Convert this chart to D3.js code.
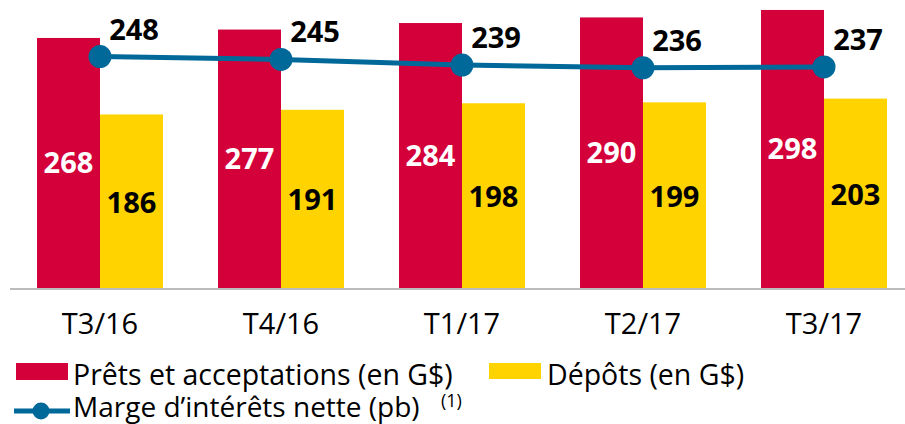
<!DOCTYPE html>
<html>
<head>
<meta charset="utf-8">
<script src="https://cdn.jsdelivr.net/npm/d3@7"></script>
<style>
  body { margin: 0; background: #fff; }
  text { font-family: "Open Sans", sans-serif; }
</style>
</head>
<body>
<div id="chart"></div>
<script>
const quarters = ["T3/16", "T4/16", "T1/17", "T2/17", "T3/17"];
const loans = [268, 277, 284, 290, 298];
const deposits = [186, 191, 198, 199, 203];
const margin = [248, 245, 239, 236, 237];

const width = 905;
const height = 424;
const red = "#D3003A";
const yellow = "#FED300";
const blue = "#00699A";

const svg = d3.select("#chart")
  .append("svg")
  .attr("width", width)
  .attr("height", height);

const x = d3.scaleBand()
  .domain(quarters)
  .range([9.5, 914.5])
  .paddingInner(0.304)
  .paddingOuter(0.152);

const xSub = d3.scaleBand()
  .domain(["loans", "deposits"])
  .range([0, x.bandwidth()]);

const y = d3.scaleLinear()
  .domain([0, 300])
  .range([288, 8.1]);

const rows = quarters.map((q, i) => ({ q, loans: loans[i], deposits: deposits[i], margin: margin[i] }));

// bars
const groups = svg.append("g")
  .selectAll("g")
  .data(rows)
  .enter()
  .append("g")
  .attr("transform", d => `translate(${x(d.q)},0)`);

groups.append("rect")
  .attr("x", xSub("loans"))
  .attr("y", d => y(d.loans))
  .attr("width", xSub.bandwidth())
  .attr("height", d => y(0) - y(d.loans))
  .style("fill", red);

groups.append("rect")
  .attr("x", xSub("deposits"))
  .attr("y", d => y(d.deposits))
  .attr("width", xSub.bandwidth())
  .attr("height", d => y(0) - y(d.deposits))
  .style("fill", yellow);

groups.append("text")
  .attr("x", xSub("loans") + xSub.bandwidth() / 2)
  .attr("y", d => (y(d.loans) + y(0)) / 2)
  .attr("dy", "0.36em")
  .attr("text-anchor", "middle")
  .style("font-size", "29px")
  .style("font-weight", 700)
  .style("fill", "#fff")
  .text(d => d.loans);

groups.append("text")
  .attr("x", xSub("deposits") + xSub.bandwidth() / 2)
  .attr("y", d => (y(d.deposits) + y(0)) / 2)
  .attr("dy", "0.4em")
  .attr("text-anchor", "middle")
  .style("font-size", "29px")
  .style("font-weight", 700)
  .style("fill", "#000")
  .text(d => d.deposits);

// axis
const xAxis = svg.append("g")
  .attr("transform", `translate(0,${y(0) + 0.5})`)
  .call(d3.axisBottom(x).tickSize(0).tickSizeOuter(0));

xAxis.select(".domain")
  .style("stroke", "#A6A6A6")
  .style("stroke-width", 1.5);

xAxis.selectAll("text")
  .attr("dy", null)
  .attr("y", 45.5)
  .style("font-size", "29px")
  .style("font-family", "'Open Sans', sans-serif")
  .style("fill", "#000");

// margin line
const cx = d => x(d.q) + xSub.bandwidth();

const line = d3.line()
  .x(cx)
  .y(d => y(d.margin));

svg.append("path")
  .datum(rows)
  .attr("d", line)
  .style("fill", "none")
  .style("stroke", blue)
  .style("stroke-width", 5);

svg.append("g")
  .selectAll("circle")
  .data(rows)
  .enter()
  .append("circle")
  .attr("cx", cx)
  .attr("cy", d => y(d.margin))
  .attr("r", 11.5)
  .style("fill", blue);

svg.append("g")
  .selectAll("text")
  .data(rows)
  .enter()
  .append("text")
  .attr("x", d => cx(d) + 34)
  .attr("y", d => y(d.margin) - 17)
  .attr("text-anchor", "middle")
  .style("font-size", "29px")
  .style("font-weight", 700)
  .style("fill", "#000")
  .text(d => d.margin);

// legend
const legend = svg.append("g");

legend.append("rect")
  .attr("x", 16).attr("y", 363)
  .attr("width", 52).attr("height", 17)
  .style("fill", red);

legend.append("text")
  .attr("x", 73).attr("y", 385)
  .style("font-size", "28.5px")
  .text("Prêts et acceptations (en G$)");

legend.append("rect")
  .attr("x", 489).attr("y", 363)
  .attr("width", 52).attr("height", 16)
  .style("fill", yellow);

legend.append("text")
  .attr("x", 547).attr("y", 385)
  .style("font-size", "28.5px")
  .text("Dépôts (en G$)");

legend.append("line")
  .attr("x1", 14).attr("x2", 70)
  .attr("y1", 411).attr("y2", 411)
  .style("stroke", blue)
  .style("stroke-width", 5);

legend.append("circle")
  .attr("cx", 41).attr("cy", 411)
  .attr("r", 8.5)
  .style("fill", blue);

legend.append("text")
  .attr("x", 73).attr("y", 417)
  .style("font-size", "28px")
  .text("Marge d’intérêts nette (pb)");

legend.append("text")
  .attr("x", 441).attr("y", 407)
  .style("font-size", "18px")
  .text("(1)");
</script>
</body>
</html>
